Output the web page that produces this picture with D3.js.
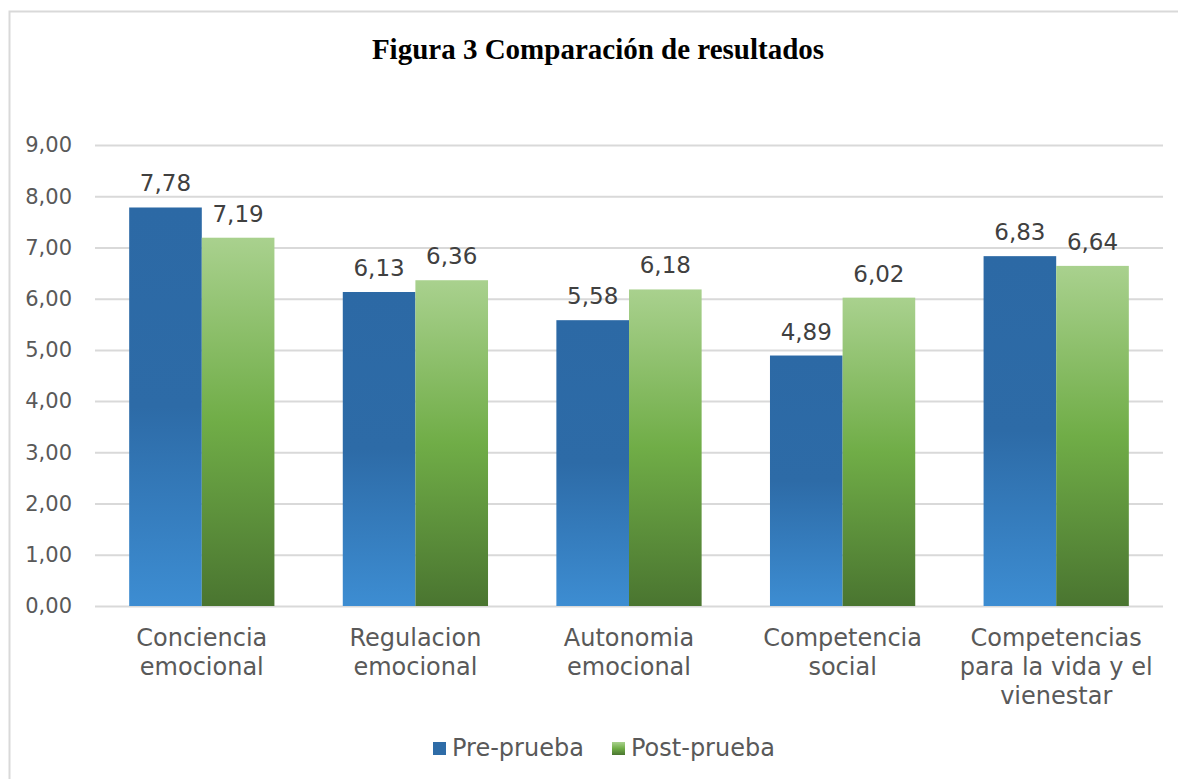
<!DOCTYPE html>
<html>
<head>
<meta charset="utf-8">
<script src="https://cdn.jsdelivr.net/npm/d3@7"></script>
<style>
  body { margin: 0; background: #fff; }
  svg text { font-family: "DejaVu Sans", Verdana, sans-serif; fill: #595959; }
</style>
</head>
<body>
<div id="chart"></div>
<script>
const categories = [
  ["Conciencia", "emocional"],
  ["Regulacion", "emocional"],
  ["Autonomia", "emocional"],
  ["Competencia", "social"],
  ["Competencias", "para la vida y el", "vienestar"]
];
const series = ["Pre-prueba", "Post-prueba"];
const prePrueba = [7.78, 6.13, 5.58, 4.89, 6.83];
const postPrueba = [7.19, 6.36, 6.18, 6.02, 6.64];
const ticks = [0, 1, 2, 3, 4, 5, 6, 7, 8, 9];

const W = 1178, H = 779;
const margin = { top: 145, right: 15, bottom: 173, left: 95 },
  width = W - margin.left - margin.right,
  height = H - margin.top - margin.bottom;

const fmt = v => v.toFixed(2).replace(".", ",");

const svg = d3.select("#chart").append("svg")
  .attr("width", W)
  .attr("height", H);

const defs = svg.append("defs");
const gBlue = defs.append("linearGradient").attr("id", "gBlue")
  .attr("x1", 0).attr("y1", 0).attr("x2", 0).attr("y2", 1);
gBlue.append("stop").attr("offset", "0%").attr("stop-color", "#2c69a5");
gBlue.append("stop").attr("offset", "50%").attr("stop-color", "#2d6ba7");
gBlue.append("stop").attr("offset", "100%").attr("stop-color", "#3d8dd2");
const gGreen = defs.append("linearGradient").attr("id", "gGreen")
  .attr("x1", 0).attr("y1", 0).attr("x2", 0).attr("y2", 1);
gGreen.append("stop").attr("offset", "0%").attr("stop-color", "#a9d18e");
gGreen.append("stop").attr("offset", "50%").attr("stop-color", "#70ad47");
gGreen.append("stop").attr("offset", "100%").attr("stop-color", "#4a7530");

// outer frame
svg.append("rect")
  .attr("x", 9.5).attr("y", 11.5)
  .attr("width", W + 20).attr("height", H + 20)
  .attr("fill", "none").attr("stroke", "#d9d9d9").attr("stroke-width", 2);

svg.append("text")
  .attr("x", 598).attr("y", 59)
  .attr("text-anchor", "middle")
  .style("font-family", "'Liberation Serif', 'Times New Roman', serif")
  .style("font-weight", "bold")
  .style("font-size", "29px")
  .style("fill", "#000")
  .text("Figura 3 Comparación de resultados");

const g = svg.append("g")
  .attr("transform", `translate(${margin.left},${margin.top})`);

const x0 = d3.scaleBand()
  .domain(d3.range(categories.length))
  .range([0, width])
  .paddingInner(0.32)
  .paddingOuter(0.16);

const x1 = d3.scaleBand()
  .domain(series)
  .range([0, x0.bandwidth()]);

const y = d3.scaleLinear().domain([0, 9]).range([height, 0]);

// grid
g.selectAll(".grid")
  .data(ticks)
  .enter().append("line")
  .attr("x1", 0).attr("x2", width)
  .attr("y1", d => y(d) + 0.5).attr("y2", d => y(d) + 0.5)
  .attr("stroke", "#d9d9d9").attr("stroke-width", 2);

g.selectAll(".ytick")
  .data(ticks)
  .enter().append("text")
  .attr("x", -23)
  .attr("y", d => y(d))
  .attr("dy", "0.35em")
  .attr("text-anchor", "end")
  .style("font-size", "21px")
  .text(fmt);

const data = categories.map((c, i) => ({ i, values: [prePrueba[i], postPrueba[i]] }));

const groups = g.selectAll(".cat")
  .data(data)
  .enter().append("g")
  .attr("transform", d => `translate(${x0(d.i)},0)`);

groups.selectAll("rect")
  .data(d => d.values.map((v, k) => ({ s: series[k], v, k })))
  .enter().append("rect")
  .attr("x", d => x1(d.s))
  .attr("y", d => y(d.v))
  .attr("width", x1.bandwidth())
  .attr("height", d => height - y(d.v))
  .attr("fill", d => d.k === 0 ? "url(#gBlue)" : "url(#gGreen)");

groups.selectAll(".lbl")
  .data(d => d.values.map((v, k) => ({ s: series[k], v, k })))
  .enter().append("text")
  .attr("x", d => x1(d.s) + x1.bandwidth() / 2)
  .attr("y", d => y(d.v) - 16)
  .attr("text-anchor", "middle")
  .style("font-size", "23px")
  .style("fill", "#404040")
  .text(d => fmt(d.v));

// category labels
g.selectAll(".cat-lbl")
  .data(categories)
  .enter().append("text")
  .attr("x", (d, i) => x0(i) + x0.bandwidth() / 2)
  .attr("y", height + 40)
  .attr("text-anchor", "middle")
  .style("font-size", "24px")
  .each(function (lines) {
    d3.select(this).selectAll("tspan")
      .data(lines)
      .enter().append("tspan")
      .attr("x", d3.select(this).attr("x"))
      .attr("dy", (l, j) => j === 0 ? 0 : 29)
      .text(l => l);
  });

// legend
const legend = svg.append("g");
const legendItems = [
  { name: series[0], x: 433, fill: "#2e6ca7" },
  { name: series[1], x: 612, fill: "url(#gGreen)" }
];
legendItems.forEach(it => {
  legend.append("rect")
    .attr("x", it.x).attr("y", 742)
    .attr("width", 13).attr("height", 13)
    .attr("fill", it.fill);
  legend.append("text")
    .attr("x", it.x + 19).attr("y", 756)
    .style("font-size", "24px")
    .text(it.name);
});
</script>
</body>
</html>
